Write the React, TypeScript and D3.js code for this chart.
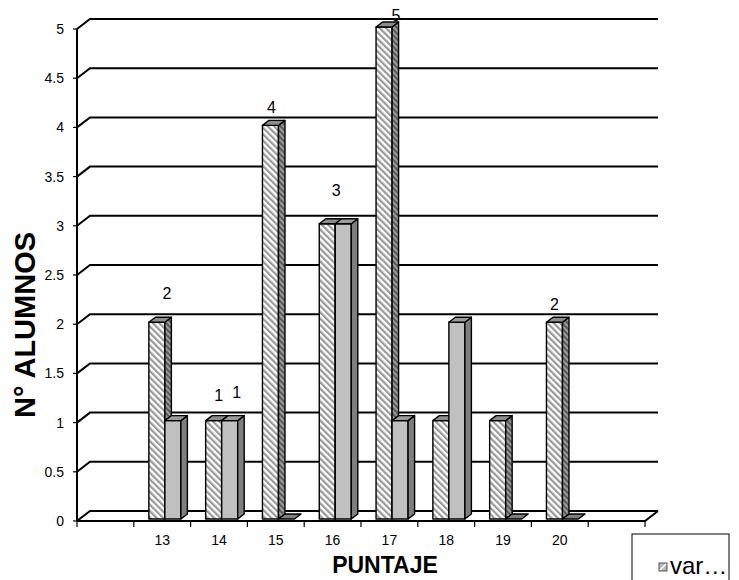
import * as d3 from "d3";

const categories = ["13", "14", "15", "16", "17", "18", "19", "20"];
const seriesA = [2, 1, 4, 3, 5, 1, 1, 2];
const seriesB = [1, 1, 0, 3, 1, 2, 0, 0];
const yTicks = [0, 0.5, 1, 1.5, 2, 2.5, 3, 3.5, 4, 4.5, 5];
const yTickLabels = ["0", "0.5", "1", "1.5", "2", "2.5", "3", "3.5", "4", "4.5", "5"];
// which bars carry a value label (category, series index)
const labelled: [string, number][] = [
  ["13", 0],
  ["14", 0],
  ["14", 1],
  ["15", 0],
  ["16", 0],
  ["17", 0],
  ["20", 0],
];
const legendText = "var…";

// label placement nudges (Excel 3D label offsets)
const NUDGE: Record<string, [number, number]> = {
  "13-0": [10, -29],
  "14-0": [5, -26],
  "14-1": [7, -29],
  "15-0": [1, -18],
  "16-0": [9, -34],
  "17-0": [12, -12],
  "20-0": [0, -18],
};

const W = 739;
const H = 580;
const FONT = "'Liberation Sans', Arial, sans-serif";
const LEFT = 77;
const RIGHT = 645;
const FLOOR = 521;
const TOP = 29;
const DEPTH_X = 13;
const DEPTH_Y = 10;
const BAR_DX = 6.5;
const BAR_DY = 5;

export default function App() {
  const slots = ["_a", ...categories, "_b"];
  const x = d3.scaleBand<string>().domain(slots).range([LEFT, RIGHT]).padding(0);
  const y = d3.scaleLinear().domain([0, 5]).range([FLOOR, TOP]);
  const bw = x.bandwidth();
  const barW = bw * 0.282;
  const barOff = bw * 0.265;
  const series = [seriesA, seriesB];
  const barBottom = FLOOR - 2;

  const barX = (cat: string, s: number) => (x(cat) ?? 0) + barOff + s * barW;
  const barTop = (v: number) => y(v) - 2;

  const bars: JSX.Element[] = [];
  categories.forEach((cat, i) => {
    series.forEach((vals, s) => {
      const v = vals[i];
      const x0 = barX(cat, s);
      const x1 = x0 + barW;
      const t = v === 0 ? barBottom : barTop(v);
      const front = s === 0 ? "url(#hatch)" : "#c0c0c0";
      const side = s === 0 ? "url(#hatchDark)" : "#7f7f7f";
      const top = s === 0 ? "#8c8c8c" : "#9c9c9c";
      bars.push(
        <g key={`${cat}-${s}`} stroke="#000" strokeWidth={1.4} strokeLinejoin="round">
          {v > 0 && (
            <>
              <rect x={x0} y={t} width={barW} height={barBottom - t} fill={front} />
              <path
                d={`M${x1},${t} L${x1 + BAR_DX},${t - BAR_DY} L${x1 + BAR_DX},${barBottom - BAR_DY} L${x1},${barBottom} Z`}
                fill={side}
              />
            </>
          )}
          <path
            d={`M${x0},${t} L${x0 + BAR_DX},${t - BAR_DY} L${x1 + BAR_DX},${t - BAR_DY} L${x1},${t} Z`}
            fill={v === 0 ? "#7f7f7f" : top}
          />
        </g>
      );
    });
  });

  return (
    <svg
      width={W}
      height={H}
      style={{ position: "absolute", left: 0, top: 0, background: "#fff" }}
      fontFamily={FONT}
    >
      <defs>
        <pattern id="hatch" patternUnits="userSpaceOnUse" width={4.5} height={4.5} patternTransform="rotate(-45)">
          <rect width={4.5} height={4.5} fill="#ffffff" />
          <rect width={2.2} height={4.5} fill="#999999" />
        </pattern>
        <pattern id="hatchDark" patternUnits="userSpaceOnUse" width={4} height={4} patternTransform="rotate(-45)">
          <rect width={4} height={4} fill="#9a9a9a" />
          <rect width={2} height={4} fill="#5a5a5a" />
        </pattern>
      </defs>

      {/* gridlines on the left wall and back wall */}
      <g fill="none" stroke="#000" strokeWidth={2}>
        {yTicks.map((v) => (
          <path
            key={v}
            d={`M${LEFT},${y(v)} L${LEFT + DEPTH_X},${y(v) - DEPTH_Y} L${RIGHT + DEPTH_X},${y(v) - DEPTH_Y}`}
          />
        ))}
        {/* floor front edge and right slant */}
        <path d={`M${LEFT},${FLOOR} L${RIGHT},${FLOOR} L${RIGHT + DEPTH_X},${FLOOR - DEPTH_Y}`} />
        {/* value axis */}
        <line x1={LEFT} x2={LEFT} y1={y(5)} y2={FLOOR} />
        {yTicks.map((v) => (
          <line key={`t${v}`} x1={LEFT - 4} x2={LEFT} y1={y(v)} y2={y(v)} strokeWidth={1.2} />
        ))}
        {d3.range(slots.length + 1).map((k) => (
          <line
            key={`xt${k}`}
            x1={LEFT + k * bw}
            x2={LEFT + k * bw}
            y1={FLOOR}
            y2={FLOOR + 6}
            strokeWidth={1.2}
          />
        ))}
      </g>

      {/* y tick labels */}
      <g fontSize={14} fill="#000" textAnchor="end">
        {yTicks.map((v, i) => (
          <text key={v} x={64} y={y(v) + 5}>
            {yTickLabels[i]}
          </text>
        ))}
      </g>

      {/* x tick labels */}
      <g fontSize={14} fill="#000" textAnchor="middle">
        {categories.map((c) => (
          <text key={c} x={(x(c) ?? 0) + bw / 2} y={545}>
            {c}
          </text>
        ))}
      </g>

      {bars}

      {/* data labels */}
      <g fontSize={16} fill="#000" textAnchor="middle">
        {labelled.map(([cat, s]) => {
          const i = categories.indexOf(cat);
          const v = series[s][i];
          const [dx, dy] = NUDGE[`${cat}-${s}`] ?? [0, -18];
          return (
            <text key={`${cat}-${s}`} x={barX(cat, s) + barW / 2 + dx} y={barTop(v) + dy + 6}>
              {v}
            </text>
          );
        })}
      </g>

      {/* axis titles */}
      <text
        transform="translate(35,325) rotate(-90)"
        textAnchor="middle"
        fontSize={29}
        fontWeight="bold"
        fill="#000"
      >
        N° ALUMNOS
      </text>
      <text x={385} y={573} textAnchor="middle" fontSize={23} fontWeight="bold" fill="#000">
        PUNTAJE
      </text>

      {/* legend */}
      <rect x={632} y={534} width={97} height={60} fill="#fff" stroke="#000" strokeWidth={1} />
      <rect x={659} y={563} width={8} height={8} fill="#b8b8b8" stroke="#555" strokeWidth={1} />
      <path d="M660,570 L666,564" stroke="#fff" strokeWidth={1.2} />
      <text x={670} y={574} fontSize={24} fill="#000">
        {legendText}
      </text>
    </svg>
  );
}
